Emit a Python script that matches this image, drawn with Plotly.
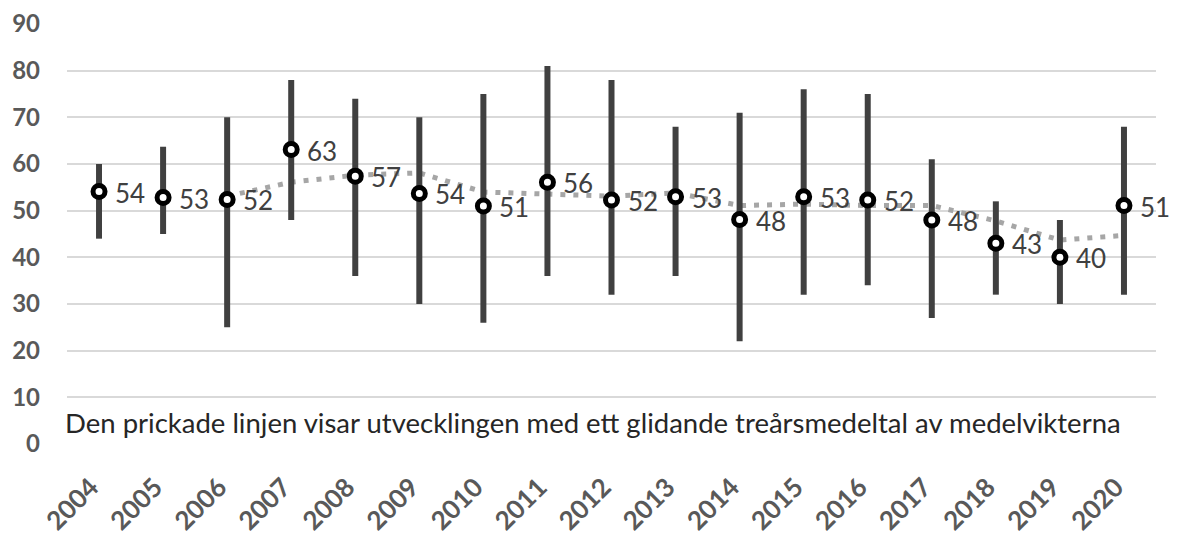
import plotly.graph_objects as go

years = [2004, 2005, 2006, 2007, 2008, 2009, 2010, 2011, 2012, 2013, 2014, 2015, 2016, 2017, 2018, 2019, 2020]
mean_vals = [54.1, 52.8, 52.4, 63.1, 57.4, 53.7, 51.0, 56.1, 52.3, 53.0, 48.1, 53.0, 52.3, 48.0, 43.0, 40.0, 51.1]
mean_labels = ["54", "53", "52", "63", "57", "54", "51", "56", "52", "53", "48", "53", "52", "48", "43", "40", "51"]
high_vals = [60, 63.7, 70, 78, 74, 70, 75, 81, 78, 68, 71, 76, 75, 61, 52, 48, 68]
low_vals = [44, 45, 25, 48, 36, 30, 26, 36, 32, 36, 22, 32, 34, 27, 32, 30, 32]
ma_years = [2006, 2007, 2008, 2009, 2010, 2011, 2012, 2013, 2014, 2015, 2016, 2017, 2018, 2019, 2020]
ma_vals = [53.1, 56.1, 57.6, 58.1, 54.0, 53.6, 53.1, 53.8, 51.1, 51.4, 51.1, 51.1, 47.8, 43.7, 44.7]
y_ticks = [0, 10, 20, 30, 40, 50, 60, 70, 80, 90]
note_text = "Den prickade linjen visar utvecklingen med ett glidande treårsmedeltal av medelvikterna"

FONT = "Lato"

fig = go.Figure()

# Moving average (dotted)
fig.add_trace(go.Scatter(
    x=ma_years, y=ma_vals, mode="lines",
    line=dict(color="#a6a6a6", width=5, dash="5px,8px"),
    hoverinfo="skip", showlegend=False,
))

# Means with min/max error bars
fig.add_trace(go.Scatter(
    x=years, y=mean_vals, mode="markers",
    marker=dict(symbol="circle", size=12, color="white",
                line=dict(color="black", width=5)),
    error_y=dict(type="data", symmetric=False,
                 array=[h - m for h, m in zip(high_vals, mean_vals)],
                 arrayminus=[m - l for m, l in zip(mean_vals, low_vals)],
                 color="#404040", thickness=6, width=0),
    showlegend=False,
))

# Data labels
for yr, v, lab in zip(years, mean_vals, mean_labels):
    fig.add_annotation(
        x=yr, y=v, text=lab, showarrow=False, xanchor="left", yanchor="middle",
        xshift=14, yshift=-1,
        font=dict(family=FONT, size=26, color="#404040"),
    )

fig.add_annotation(
    text=note_text, xref="paper", yref="y", x=0, y=4.6,
    xanchor="left", yanchor="middle", xshift=-4, showarrow=False,
    font=dict(family=FONT, size=27.5, color="#262626"),
)

fig.update_layout(
    width=1182, height=534,
    margin=dict(l=59, r=34, t=16, b=98),
    plot_bgcolor="white", paper_bgcolor="white",
    font=dict(family=FONT),
)
fig.update_xaxes(
    range=[2003.5, 2020.5], tickvals=years, ticktext=[str(y) for y in years],
    tickangle=-45, showgrid=False, zeroline=False, showline=False,
    tickfont=dict(family=FONT, size=26, color="#595959", weight="bold"),
    ticks="", ticklabelstandoff=22, ticklabelshift=-8, automargin=False,
)
fig.update_yaxes(
    range=[0, 90], tickvals=y_ticks, showgrid=True, gridcolor="#d9d9d9",
    gridwidth=2, zeroline=False, showline=False,
    tickfont=dict(family=FONT, size=24, color="#595959", weight="bold"),
    ticks="", ticklabelstandoff=26, automargin=False,
)

fig.write_html("out.html")
